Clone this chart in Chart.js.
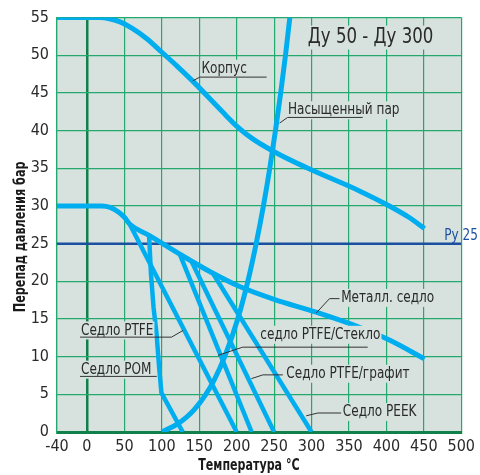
<!DOCTYPE html>
<html>
<head>
<meta charset="utf-8">
<script src="https://cdn.jsdelivr.net/npm/chart.js@4.4.1/dist/chart.umd.min.js"></script>
<style>
  html, body { margin: 0; padding: 0; background: #fff; }
</style>
</head>
<body>
<canvas id="chart" width="480" height="475"></canvas>
<script>
// оси
const xTicks = [-40, 0, 50, 100, 150, 200, 250, 300, 350, 400, 450, 500];
const yTicks = [0, 5, 10, 15, 20, 25, 30, 35, 40, 45, 50, 55];

// кривые (температура, перепад давления)
const korpus = [[-40, 55], [17, 55], [30, 54.85], [45, 54.4], [60, 53.6], [80, 52.2], [100, 50.4],
  [120, 48.6], [142, 46.5], [180, 42.6], [200, 40.6], [220, 39.0], [250, 37.2], [293, 35.1],
  [364, 32.0], [404, 30.0], [430, 28.5], [451, 27]];
const steam = [[100, 0], [120, 1], [133.5, 2], [143.6, 3], [158.8, 5], [170.4, 7], [184, 10], [201.4, 15],
  [214.9, 20], [226, 25], [235.7, 30], [244.2, 35], [251.8, 40], [258.8, 45], [265.2, 50], [271, 55]];
const metal = [[-40, 30], [20, 30], [31, 29.8], [42, 29.2], [50, 28.5], [57, 27.6], [83, 26.1], [124, 23.6],
  [164, 21.3], [204, 19.3], [250, 17.6], [306, 15.9], [364, 13.9], [404, 12.2], [451, 9.7]];
const pom = [[83, 26.1], [85.5, 21], [89, 16.5], [93, 13], [96.5, 8.5], [99.5, 5.2], [128, 0]];
const ptfe = [[57, 27.6], [200, 0]];
const ptfeGlass = [[124, 23.6], [220, 0]];
const ptfeGraphite = [[140, 22.6], [250, 0]];
const peek = [[168, 21.1], [300, 0]];
const ru25 = [[-40, 25], [500, 25]];

const FONT = "'Liberation Sans Narrow', 'DejaVu Sans Condensed', 'Liberation Sans', sans-serif";
const PLOT_BG = '#d7e2df';
const GRID = '#23a86e';
const DARK_GRID = '#11804a';
const CYAN = '#00aeef';
const BLUE = '#1b4f9f';
const TEXT = '#2a2a2a';
const NARROW = 0.84;

// подписи: текст и выноски (в единицах осей)
const notes = [
  { text: 'Корпус', x: 152.9, y: 48.2, lead: [[240, 47.1], [150.7, 47.1], [141.3, 46.6]] },
  { text: 'Насыщенный пар', x: 268.4, y: 42.7, lead: [[368.4, 41.75], [268, 41.75], [257.3, 41.0]] },
  { text: 'Металл. седло', x: 339.6, y: 17.8, lead: [[337.3, 17.7], [324, 17.7], [306.3, 15.8]] },
  { text: 'седло PTFE/Стекло', x: 231.6, y: 12.9, lead: [[375, 11.26], [208, 11.26], [175, 10.17]] },
  { text: 'Седло PTFE/графит', x: 266.3, y: 7.74, lead: [[261.7, 7.58], [235, 7.58], [219.6, 7.08]] },
  { text: 'Седло PEEK', x: 341.7, y: 2.65, lead: [[339.6, 2.52], [308.4, 2.52], [292.9, 2.15]] },
  { text: 'Седло PTFE', x: -8, y: 13.48, lead: [[-9.3, 12.59], [113, 12.59], [128.4, 13.48]] },
  { text: 'Седло POM', x: -8, y: 8.27, lead: [[-9.3, 7.38], [93.3, 7.38]] },
];

const toXY = (arr) => arr.map(p => ({ x: p[0], y: p[1] }));

function curve(data, smooth, width) {
  return {
    data: toXY(data),
    showLine: true,
    borderColor: CYAN,
    borderWidth: width || 5,
    pointRadius: 0,
    fill: false,
    borderJoinStyle: 'round',
    cubicInterpolationMode: smooth ? 'monotone' : 'default',
    tension: 0,
  };
}

// текст, сжатый по горизонтали, с подложкой цвета поля
function drawText(ctx, text, x, y, font, color, sx, bgHeight) {
  ctx.save();
  ctx.font = font;
  ctx.translate(x, y);
  ctx.scale(sx, 1);
  const w = ctx.measureText(text).width;
  if (bgHeight) {
    ctx.fillStyle = PLOT_BG;
    ctx.fillRect(-1 / sx, -bgHeight / 2, w + 2 / sx, bgHeight);
  }
  ctx.fillStyle = color;
  ctx.fillText(text, 0, 0);
  ctx.restore();
}

const notesPlugin = {
  id: 'notes',
  beforeDraw(chart) {
    const { ctx, chartArea } = chart;
    ctx.save();
    ctx.fillStyle = PLOT_BG;
    ctx.fillRect(chartArea.left, chartArea.top, chartArea.right - chartArea.left, chartArea.bottom - chartArea.top);
    ctx.restore();
  },
  afterDatasetsDraw(chart) {
    const { ctx } = chart;
    const xs = chart.scales.x;
    const ys = chart.scales.y;
    const X = v => xs.getPixelForValue(v);
    const Y = v => ys.getPixelForValue(v);

    ctx.save();
    ctx.textBaseline = 'middle';
    ctx.textAlign = 'left';

    notes.forEach(n => {
      drawText(ctx, n.text, X(n.x), Y(n.y), `16px ${FONT}`, TEXT, NARROW, 18);
      ctx.strokeStyle = '#333';
      ctx.lineWidth = 1;
      ctx.beginPath();
      n.lead.forEach((p, i) => {
        if (i === 0) ctx.moveTo(X(p[0]), Y(p[1]));
        else ctx.lineTo(X(p[0]), Y(p[1]));
      });
      ctx.stroke();
    });

    // заголовок и Ру
    drawText(ctx, 'Ду 50 - Ду 300', X(295), Y(52.35), `22px ${FONT}`, TEXT, NARROW, 24);
    drawText(ctx, 'Ру 25', X(477.3), Y(26.1), `16px ${FONT}`, BLUE, NARROW, 0);

    // подписи осей
    ctx.textAlign = 'center';
    drawText(ctx, 'Температура °C', X(216.4), chart.height - 9, `bold 16px ${FONT}`, '#1a1a1a', 0.77, 0);
    ctx.save();
    ctx.translate(20.5, Y(25.9));
    ctx.rotate(-Math.PI / 2);
    drawText(ctx, 'Перепад давления бар', 0, 0, `bold 16px ${FONT}`, '#1a1a1a', 0.78, 0);
    ctx.restore();

    ctx.restore();
  },
};

new Chart(document.getElementById('chart'), {
  type: 'scatter',
  data: {
    datasets: [
      curve(korpus, true),
      curve(steam, true),
      curve(metal, true),
      curve(pom, false, 4.5),
      curve(ptfe, false, 4.5),
      curve(ptfeGlass, false, 4.5),
      curve(ptfeGraphite, false, 4.5),
      curve(peek, false, 4.5),
      {
        data: toXY(ru25),
        showLine: true,
        borderColor: BLUE,
        borderWidth: 2.5,
        pointRadius: 0,
        fill: false,
      },
    ],
  },
  options: {
    responsive: false,
    animation: false,
    events: [],
    layout: { padding: { top: 17, right: 17, left: 0, bottom: 0 } },
    plugins: { legend: { display: false }, tooltip: { enabled: false } },
    scales: {
      x: {
        type: 'linear',
        min: -40,
        max: 500,
        afterBuildTicks: (s) => { s.ticks = xTicks.map(v => ({ value: v })); },
        afterFit: (s) => { s.height = 43; },
        ticks: {
          autoSkip: false,
          maxRotation: 0,
          padding: 5,
          color: TEXT,
          font: { family: FONT, size: 16 },
        },
        grid: {
          drawTicks: false,
          color: (c) => (c.tick && c.tick.value === 0 ? DARK_GRID : GRID),
          lineWidth: (c) => (c.tick && c.tick.value === 0 ? 2.5 : 1.2),
        },
        border: { display: true, color: DARK_GRID, width: 3 },
      },
      y: {
        type: 'linear',
        min: 0,
        max: 55,
        afterBuildTicks: (s) => { s.ticks = yTicks.map(v => ({ value: v })); },
        afterFit: (s) => { s.width = 57; },
        ticks: {
          padding: 8,
          color: TEXT,
          font: { family: FONT, size: 16 },
        },
        grid: {
          drawTicks: false,
          color: (c) => (c.tick && c.tick.value === 0 ? DARK_GRID : GRID),
          lineWidth: (c) => (c.tick && c.tick.value === 0 ? 3 : 1.2),
        },
        border: { display: true, color: GRID, width: 1.2 },
      },
    },
  },
  plugins: [notesPlugin],
});
</script>
</body>
</html>
